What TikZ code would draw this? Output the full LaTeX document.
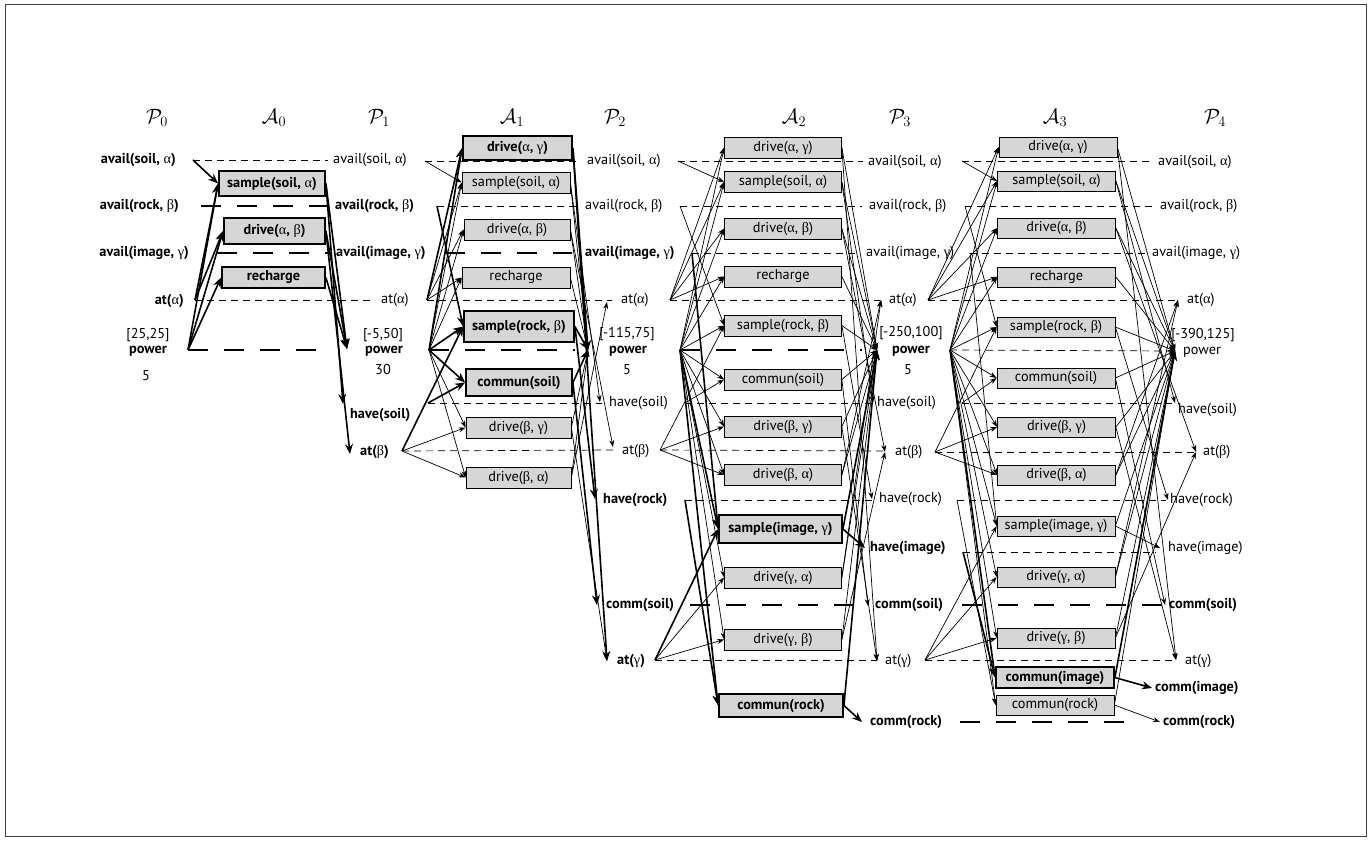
\documentclass[tikz,border=0pt]{standalone}
\usepackage{fontspec}
\setmainfont{PT Sans}
\newfontfamily\grfont{Liberation Serif}
\usetikzlibrary{arrows.meta}
\newcommand{\xal}{{\grfont\mdseries α}}
\newcommand{\xbe}{{\grfont\mdseries β}}
\newcommand{\xga}{{\grfont\mdseries γ}}
\pgfdeclarelayer{bg}
\pgfsetlayers{bg,main}
\tikzset{
  txt/.style={inner sep=0pt, font=\fontsize{14.3}{16}\selectfont},
  lw/.style={txt, anchor=west},
  le/.style={txt, anchor=east},
  actbox/.style={draw=black, fill=black!16, line width=0.7pt, inner sep=0pt, font=\fontsize{14.3}{16}\selectfont},
  boldbox/.style={actbox, line width=1.8pt, font=\fontsize{14.3}{16}\selectfont\bfseries},
  thinnoop/.style={line width=0.7pt, dash pattern=on 7pt off 5pt},
  thicknoop/.style={line width=1.7pt, dash pattern=on 20pt off 16pt},
  thinarr/.style={line width=0.7pt, -{Stealth[length=7pt,width=5pt]}},
  thickarr/.style={line width=1.6pt, -{Stealth[length=10pt,width=8pt]}},
  hdr/.style={font=\fontsize{20}{22}\selectfont, inner sep=0pt},
}
\begin{document}
\begin{tikzpicture}[x=1pt,y=-1pt]
\useasboundingbox (0,0) rectangle (1372,841);
\draw[line width=0.8pt, black!75] (5,4) rectangle (1366,836);

% headers
\node[hdr] (hp0) at (157,118) {$\mathcal{P}_0$};
\node[hdr] (ha0) at (274,118) {$\mathcal{A}_0$};
\node[hdr] (hp1) at (379,118) {$\mathcal{P}_1$};
\node[hdr] (ha1) at (512,118) {$\mathcal{A}_1$};
\node[hdr] (hp2) at (615,118) {$\mathcal{P}_2$};
\node[hdr] (ha2) at (794,118) {$\mathcal{A}_2$};
\node[hdr] (hp3) at (900,118) {$\mathcal{P}_3$};
\node[hdr] (ha3) at (1055,118) {$\mathcal{A}_3$};
\node[hdr] (hp4) at (1215,118) {$\mathcal{P}_4$};

% ---- P0 labels
\node[le] (L0-as) at (176,160) {\bfseries avail(soil, \xal)};
\node[le] (L0-ar) at (179,206) {\bfseries avail(rock, \xbe)};
\node[le] (L0-ai) at (189,253) {\bfseries avail(image, \xga)};
\node[le] (L0-aa) at (184,301) {\bfseries at(\xal)};
\node[txt] (L0-pr) at (148,335) {[25,25]};
\node[txt] (L0-pw) at (148,351) {\bfseries power};
\node[txt] (L0-pv) at (146,376) {5};

% ---- P1 labels
\node[lw] (L1-as) at (333,160) {avail(soil, \xal)};
\node[lw] (L1-ar) at (335,206) {\bfseries avail(rock, \xbe)};
\node[lw] (L1-ai) at (336,253) {\bfseries avail(image, \xga)};
\node[lw] (L1-aa) at (381,300) {at(\xal)};
\node[txt] (L1-pr) at (383,335) {[-5,50]};
\node[txt] (L1-pw) at (384,351) {\bfseries power};
\node[txt] (L1-pv) at (383,369) {30};
\node[lw] (L1-hs) at (350,415) {\bfseries have(soil)};
\node[lw] (L1-ab) at (360,452) {\bfseries at(\xbe)};

% ---- P2 labels
\node[lw] (L2-as) at (587,161) {avail(soil, \xal)};
\node[lw] (L2-ar) at (585,206) {avail(rock, \xbe)};
\node[lw] (L2-ai) at (585,253) {\bfseries avail(image, \xga)};
\node[lw] (L2-aa) at (621,300) {at(\xal)};
\node[txt] (L2-pr) at (627,334) {[-115,75]};
\node[txt] (L2-pw) at (628,351) {\bfseries power};
\node[txt] (L2-pv) at (627,370) {5};
\node[lw] (L2-hs) at (609,403) {have(soil)};
\node[lw] (L2-ab) at (622,451) {at(\xbe)};
\node[lw] (L2-hr) at (603,500) {\bfseries have(rock)};
\node[lw] (L2-cs) at (606,605) {\bfseries comm(soil)};
\node[lw] (L2-ag) at (617,661) {\bfseries at(\xga)};

% ---- P3 labels
\node[lw] (L3-as) at (868,162) {avail(soil, \xal)};
\node[lw] (L3-ar) at (869,206) {avail(rock, \xbe)};
\node[lw] (L3-ai) at (866,253) {avail(image, \xga)};
\node[lw] (L3-aa) at (889,300) {at(\xal)};
\node[txt] (L3-pr) at (911,333) {[-250,100]};
\node[txt] (L3-pw) at (911,351) {\bfseries power};
\node[txt] (L3-pv) at (908,370) {5};
\node[lw] (L3-hs) at (877,403) {have(soil)};
\node[lw] (L3-ab) at (895,452) {at(\xbe)};
\node[lw] (L3-hr) at (879,499) {have(rock)};
\node[lw] (L3-hi) at (870,548) {\bfseries have(image)};
\node[lw] (L3-cs) at (875,605) {\bfseries comm(soil)};
\node[lw] (L3-ag) at (885,661) {at(\xga)};
\node[lw] (L3-cr) at (870,722) {\bfseries comm(rock)};

% ---- P4 labels
\node[lw] (L4-as) at (1158,162) {avail(soil, \xal)};
\node[lw] (L4-ar) at (1160,206) {avail(rock, \xbe)};
\node[lw] (L4-ai) at (1152,253) {avail(image, \xga)};
\node[lw] (L4-aa) at (1187,300) {at(\xal)};
\node[txt] (L4-pr) at (1203,335) {[-390,125]};
\node[lw] (L4-pw) at (1183,352) {power};
\node[lw] (L4-hs) at (1178,410) {have(soil)};
\node[lw] (L4-ab) at (1203,452) {at(\xbe)};
\node[lw] (L4-hr) at (1170,500) {have(rock)};
\node[lw] (L4-hi) at (1168,548) {have(image)};
\node[lw] (L4-cs) at (1169,605) {\bfseries comm(soil)};
\node[lw] (L4-ag) at (1185,661) {at(\xga)};
\node[lw] (L4-ci) at (1155,688) {\bfseries comm(image)};
\node[lw] (L4-cr) at (1163,722) {\bfseries comm(rock)};

% ---- A0
\node[boldbox, minimum width=106pt, minimum height=25pt] (a0ss) at (272,183.5) {sample(soil, \xal)};
\node[boldbox, minimum width=101pt, minimum height=26pt] (a0dab) at (274.5,231) {drive(\xal, \xbe)};
\node[boldbox, minimum width=103pt, minimum height=21pt] (a0rc) at (273.5,277.5) {recharge};

% ---- A1
\node[boldbox, minimum width=109pt, minimum height=24pt] (a1dag) at (517.5,148) {drive(\xal, \xga)};
\node[actbox, minimum width=108pt, minimum height=21pt] (a1ss) at (516,182.5) {sample(soil, \xal)};
\node[actbox, minimum width=106pt, minimum height=21pt] (a1dab) at (517,229.5) {drive(\xal, \xbe)};
\node[actbox, minimum width=108pt, minimum height=21pt] (a1rc) at (516,277.5) {recharge};
\node[boldbox, minimum width=110pt, minimum height=31pt] (a1srb) at (519,326.5) {sample(rock, \xbe)};
\node[boldbox, minimum width=106pt, minimum height=27pt] (a1cs) at (519,382.5) {commun(soil)};
\node[actbox, minimum width=105pt, minimum height=21pt] (a1dbg) at (518.5,427.5) {drive(\xbe, \xga)};
\node[actbox, minimum width=105pt, minimum height=21pt] (a1dba) at (518.5,477.5) {drive(\xbe, \xal)};

% ---- A2
\begin{scope}[every node/.append style={minimum width=117pt, minimum height=21pt}]
\node[actbox] (a2dag) at (783,147.5) {drive(\xal, \xga)};
\node[actbox] (a2ss) at (783,182) {sample(soil, \xal)};
\node[actbox] (a2dab) at (783,228.5) {drive(\xal, \xbe)};
\node[actbox] (a2rc) at (783,276.5) {recharge};
\node[actbox] (a2srb) at (783,325.5) {sample(rock, \xbe)};
\node[actbox] (a2cs) at (783,379.5) {commun(soil)};
\node[actbox] (a2dbg) at (783,426.5) {drive(\xbe, \xga)};
\node[actbox] (a2dba) at (783,475) {drive(\xbe, \xal)};
\node[boldbox, minimum width=123pt, minimum height=28pt] (a2sig) at (780.5,529) {sample(image, \xga)};
\node[actbox] (a2dga) at (783,577.5) {drive(\xga, \xal)};
\node[actbox] (a2dgb) at (783,639.5) {drive(\xga, \xbe)};
\node[boldbox, minimum width=124pt, minimum height=23pt] (a2cr) at (781,705.5) {commun(rock)};
\end{scope}

% ---- A3
\begin{scope}[every node/.append style={minimum width=118pt, minimum height=20pt}]
\node[actbox] (a3dag) at (1058,147) {drive(\xal, \xga)};
\node[actbox] (a3ss) at (1056.5,181) {sample(soil, \xal)};
\node[actbox] (a3dab) at (1056.5,228) {drive(\xal, \xbe)};
\node[actbox] (a3rc) at (1056.5,277) {recharge};
\node[actbox] (a3srb) at (1056,327) {sample(rock, \xbe)};
\node[actbox] (a3cs) at (1056,378) {commun(soil)};
\node[actbox] (a3dbg) at (1056.5,427) {drive(\xbe, \xga)};
\node[actbox] (a3dba) at (1056.5,475) {drive(\xbe, \xal)};
\node[actbox] (a3sig) at (1056,526) {sample(image, \xga)};
\node[actbox] (a3dga) at (1056,577) {drive(\xga, \xal)};
\node[actbox] (a3dgb) at (1056,638) {drive(\xga, \xbe)};
\node[boldbox, minimum height=21pt] (a3ci) at (1055,677.5) {commun(image)};
\node[actbox] (a3cr) at (1055,705) {commun(rock)};
\end{scope}

% ---- coordinates: O = outgoing start, E = noop end, I = incoming tip
\foreach \n/\x/\y in {as/193/160, ar/201/206, ai/217/253, aa/195/300, pw/188/350}
  \coordinate (O0-\n) at (\x,\y);
\foreach \n/\x/\y in {as/328/160, ar/331/206, ai/331/253, aa/375/300, pw/331/350}
  \coordinate (E1-\n) at (\x,\y);
\foreach \n/\x/\y in {pw/347/349, hs/343/404, ab/350/454}
  \coordinate (I1-\n) at (\x,\y);
\foreach \n/\x/\y in {as/425/161, ar/437/206, ai/445/253, aa/427/300, pw/429/350, hs/428/403, ab/402/451}
  \coordinate (O1-\n) at (\x,\y);
\foreach \n/\x/\y in {as/580/161, ar/578/206, ai/572/253, aa/612/300, pw/575/350, hs/602/403, ab/615/450}
  \coordinate (E2-\n) at (\x,\y);
\foreach \n/\x/\y in {aa/607/302, pw/588/350, hs/600/402, ab/613/447, hr/595/499, cs/597/605, ag/607/661}
  \coordinate (I2-\n) at (\x,\y);
\foreach \n/\x/\y in {as/678/161, ar/680/206, ai/692/253, aa/670/300, pw/680/350, hs/685/403, ab/660/450, hr/685/500, cs/690/605, ag/655/660}
  \coordinate (O2-\n) at (\x,\y);
\foreach \n/\x/\y in {as/863/161, ar/862/206, ai/860/253, aa/880/300, pw/862/350, hs/873/403, ab/885/451, hr/872/500, cs/868/605, ag/877/660}
  \coordinate (E3-\n) at (\x,\y);
\foreach \n/\x/\y in {aa/881/300, pw/877/350, hs/873/403, ab/885/452, hr/872/499, hi/865/548, cs/868/606, ag/877/661, cr/862/722}
  \coordinate (I3-\n) at (\x,\y);
\foreach \n/\x/\y in {as/962/161, ar/965/206, ai/970/253, aa/928/300, pw/950/350, hs/962/403, ab/935/452, hr/957/500, hi/963/552, cs/962/605, ag/925/660, cr/960/722}
  \coordinate (O3-\n) at (\x,\y);
\foreach \n/\x/\y in {as/1150/161, ar/1153/206, ai/1148/253, aa/1176/300, pw/1172/351, hs/1172/403, ab/1196/452, hr/1166/500, hi/1156/552, cs/1165/605, ag/1175/660, cr/1140/722}
  \coordinate (E4-\n) at (\x,\y);
\foreach \n/\x/\y in {aa/1178/300, pw/1175/351, hs/1175/403, ab/1196/452, hr/1168/500, hi/1160/548, cs/1165/605, ag/1176/660, ci/1152/688, cr/1160/722}
  \coordinate (I4-\n) at (\x,\y);

\begin{pgfonlayer}{bg}
% ---- noops
\foreach \n in {as,aa} \draw[thinnoop] (O0-\n) -- (E1-\n);
\foreach \n in {ar,ai,pw} \draw[thicknoop] (O0-\n) -- (E1-\n);
\foreach \n in {as,ar,aa,hs,ab} \draw[thinnoop] (O1-\n) -- (E2-\n);
\foreach \n in {ai,pw} \draw[thicknoop] (O1-\n) -- (E2-\n);
\foreach \n in {as,ar,ai,aa,hs,ab,hr,ag} \draw[thinnoop] (O2-\n) -- (E3-\n);
\foreach \n in {pw,cs} \draw[thicknoop] (O2-\n) -- (E3-\n);
\foreach \n in {as,ar,ai,aa,pw,hs,ab,hr,hi,ag} \draw[thinnoop] (O3-\n) -- (E4-\n);
\foreach \n in {cs,cr} \draw[thicknoop] (O3-\n) -- (E4-\n);

% ---- P0 -> A0 -> P1
\foreach \a/\p in {a0ss/as, a0ss/aa, a0ss/pw, a0dab/aa, a0dab/pw, a0rc/pw}
  \draw[thickarr] (O0-\p) -- (\a.west);
\foreach \a/\p in {a0ss/pw, a0ss/hs, a0dab/pw, a0dab/ab, a0rc/pw}
  \draw[thickarr] (\a.east) -- (I1-\p);

% ---- P1 -> A1 -> P2
\foreach \a/\p in {a1ss/as, a1ss/aa, a1ss/pw, a1dab/aa, a1dab/pw, a1rc/aa, a1rc/pw, a1dbg/ab, a1dbg/pw, a1dba/ab, a1dba/pw}
  \draw[thinarr] (O1-\p) -- (\a.west);
\foreach \a/\p in {a1dag/aa, a1dag/pw, a1srb/ar, a1srb/ab, a1srb/pw, a1cs/hs, a1cs/pw}
  \draw[thickarr] (O1-\p) -- (\a.west);
\foreach \a/\p in {a1ss/hs, a1ss/pw, a1dab/ab, a1dab/pw, a1rc/pw, a1dbg/ag, a1dbg/pw, a1dba/aa, a1dba/pw}
  \draw[thinarr] (\a.east) -- (I2-\p);
\foreach \a/\p in {a1dag/ag, a1dag/pw, a1srb/hr, a1srb/pw, a1cs/cs, a1cs/pw}
  \draw[thickarr] (\a.east) -- (I2-\p);

% ---- P2 -> A2 -> P3
\foreach \a/\p in {a2dag/aa, a2dag/pw, a2ss/as, a2ss/aa, a2ss/pw, a2dab/aa, a2dab/pw, a2rc/aa, a2rc/pw, a2srb/ar, a2srb/ab, a2srb/pw, a2cs/hs, a2cs/pw, a2dbg/ab, a2dbg/pw, a2dba/ab, a2dba/pw, a2dga/ag, a2dga/pw, a2dgb/ag, a2dgb/pw}
  \draw[thinarr] (O2-\p) -- (\a.west);
\foreach \a/\p in {a2sig/ai, a2sig/ag, a2sig/pw, a2cr/hr, a2cr/pw}
  \draw[thickarr] (O2-\p) -- (\a.west);
\foreach \a/\p in {a2dag/ag, a2dag/pw, a2ss/hs, a2ss/pw, a2dab/ab, a2dab/pw, a2rc/pw, a2srb/hr, a2srb/pw, a2cs/cs, a2cs/pw, a2dbg/ag, a2dbg/pw, a2dba/aa, a2dba/pw, a2dga/aa, a2dga/pw, a2dgb/ab, a2dgb/pw}
  \draw[thinarr] (\a.east) -- (I3-\p);
\foreach \a/\p in {a2sig/hi, a2sig/pw, a2cr/cr, a2cr/pw}
  \draw[thickarr] (\a.east) -- (I3-\p);

% ---- P3 -> A3 -> P4
\foreach \a/\p in {a3dag/aa, a3dag/pw, a3ss/as, a3ss/aa, a3ss/pw, a3dab/aa, a3dab/pw, a3rc/aa, a3rc/pw, a3srb/ar, a3srb/ab, a3srb/pw, a3cs/hs, a3cs/pw, a3dbg/ab, a3dbg/pw, a3dba/ab, a3dba/pw, a3sig/ai, a3sig/ag, a3sig/pw, a3dga/ag, a3dga/pw, a3dgb/ag, a3dgb/pw, a3cr/hr, a3cr/pw}
  \draw[thinarr] (O3-\p) -- (\a.west);
\foreach \a/\p in {a3ci/hi, a3ci/pw}
  \draw[thickarr] (O3-\p) -- (\a.west);
\foreach \a/\p in {a3dag/ag, a3dag/pw, a3ss/hs, a3ss/pw, a3dab/ab, a3dab/pw, a3rc/pw, a3srb/hr, a3srb/pw, a3cs/cs, a3cs/pw, a3dbg/ag, a3dbg/pw, a3dba/aa, a3dba/pw, a3sig/hi, a3sig/pw, a3dga/aa, a3dga/pw, a3dgb/ab, a3dgb/pw, a3cr/cr, a3cr/pw}
  \draw[thinarr] (\a.east) -- (I4-\p);
\foreach \a/\p in {a3ci/ci, a3ci/pw}
  \draw[thickarr] (\a.east) -- (I4-\p);
\end{pgfonlayer}
\end{tikzpicture}
\end{document}
